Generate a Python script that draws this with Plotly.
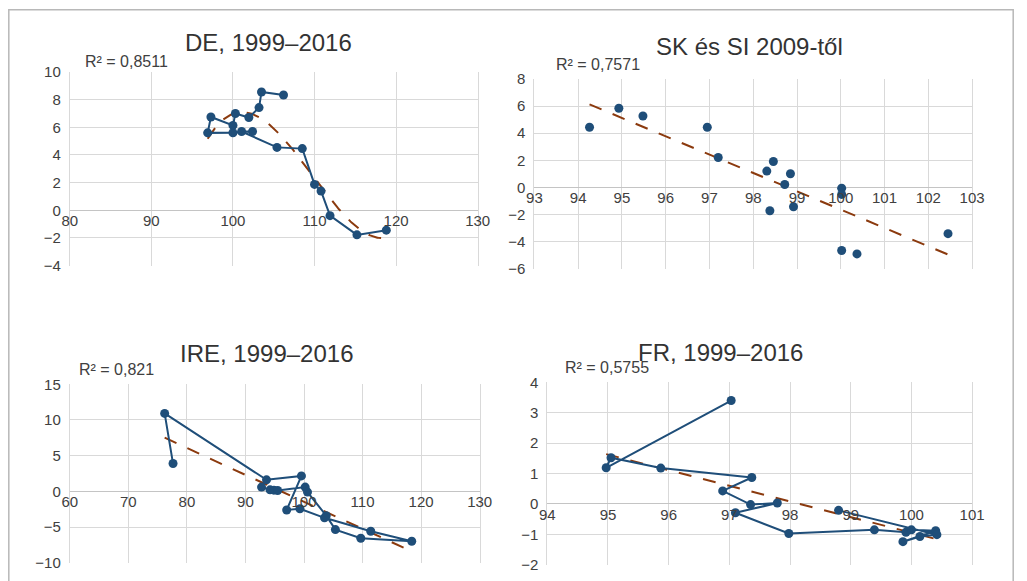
import numpy as np
import plotly.graph_objects as go

# ---------------- data ----------------
de_x = [118.8, 115.2, 111.9, 110.8, 110.0, 108.5, 105.4, 101.06, 102.4, 100.0,
        96.9, 97.3, 100.0, 100.3, 101.95, 103.2, 103.5, 106.2]
de_y = [-1.44, -1.78, -0.39, 1.39, 1.87, 4.46, 4.55, 5.7, 5.7, 5.61,
        5.6, 6.75, 6.14, 7.0, 6.71, 7.43, 8.56, 8.34]

sk_x = [94.26, 94.93, 95.48, 96.95, 97.20, 98.31, 98.46, 98.38, 98.72, 98.85,
        98.92, 100.02, 100.02, 100.02, 100.37, 102.45]
sk_y = [4.44, 5.84, 5.27, 4.44, 2.20, 1.20, 1.91, -1.73, 0.21, 1.0,
        -1.43, -0.06, -0.52, -4.67, -4.92, -3.42]

ire_x = [92.75, 94.2, 94.86, 95.5, 100.2, 100.6, 103.8, 105.36, 109.7, 118.4,
         111.4, 103.5, 99.3, 97.04, 99.56, 93.6, 76.2, 77.63]
ire_y = [0.6, 0.22, 0.17, 0.13, 0.6, -0.1, -3.4, -5.35, -6.56, -6.98,
         -5.58, -3.7, -2.43, -2.6, 2.17, 1.62, 10.92, 3.9]

fr_x = [97.03, 94.97, 95.05, 95.87, 97.37, 96.89, 97.35, 97.79, 97.1, 97.98,
        99.39, 99.91, 100.0, 100.4, 99.86, 100.14, 100.42, 98.80]
fr_y = [3.40, 1.19, 1.52, 1.18, 0.87, 0.43, -0.02, 0.03, -0.29, -0.97,
        -0.85, -0.93, -0.85, -0.88, -1.24, -1.07, -1.01, -0.21]

titles = ["DE, 1999–2016", "SK és SI 2009-től", "IRE, 1999–2016", "FR, 1999–2016"]
r2_labels = ["R² = 0,8511", "R² = 0,7571", "R² = 0,821", "R² = 0,5755"]

# ---------------- styling ----------------
W, H = 1027, 581
# the photographed page includes the default 8px body margin and is scaled
# back to 1027x581; positions below are given in photographed pixels
PM = 8
SX = W / (W + 2 * PM)
SY = H / (H + 2 * PM)

BLUE = "#1F4E79"
TREND = "#8B3A0E"
GRID = "#d9d9d9"
TXT = "#404040"
FONT = "Liberation Sans, Arial, sans-serif"

def fx(p):
    return (p / SX - PM) / W

def fy(p):
    return 1 - (p / SY - PM) / H

panels = [
    dict(x=de_x, y=de_y, mode="lines+markers", deg=3, xr=[80, 130], dx=10, yr=[-4, 10], dy=2,
         box=(70, 71, 480, 265), tpos=(270, 41), rpos=(83, 60)),
    dict(x=sk_x, y=sk_y, mode="markers", deg=1, xr=[93, 103], dx=1, yr=[-6, 8], dy=2,
         box=(537, 78, 977, 268), tpos=(753, 45), rpos=(557, 63)),
    dict(x=ire_x, y=ire_y, mode="lines+markers", deg=1, xr=[60, 130], dx=10, yr=[-10, 15], dy=5,
         box=(70, 384, 482, 563), tpos=(268, 353), rpos=(77, 369)),
    dict(x=fr_x, y=fr_y, mode="lines+markers", deg=1, xr=[94, 101], dx=1, yr=[-2, 4], dy=1,
         box=(550, 382, 977, 565), tpos=(724, 352), rpos=(566, 367)),
]

fig = go.Figure()
layout = dict(
    width=W, height=H,
    margin=dict(l=0, r=0, t=0, b=0),
    paper_bgcolor="white", plot_bgcolor="white",
    showlegend=False,
    font=dict(family=FONT, size=15, color=TXT),
    annotations=[], shapes=[],
)

for i, p in enumerate(panels, start=1):
    xa = "x" if i == 1 else f"x{i}"
    ya = "y" if i == 1 else f"y{i}"
    l, t, r, b = p["box"]
    xdom = [fx(l), fx(r)]
    ydom = [fy(b), fy(t)]
    y0, y1 = p["yr"]
    pos = ydom[0] + (0 - y0) / (y1 - y0) * (ydom[1] - ydom[0])

    # trendline computed from the data (least squares)
    xs = np.array(p["x"]); ys = np.array(p["y"])
    coef = np.polyfit(xs, ys, p["deg"])
    tx = np.linspace(xs.min(), xs.max(), 200)
    ty = np.polyval(coef, tx)
    fig.add_trace(go.Scatter(x=tx, y=ty, mode="lines", xaxis=xa, yaxis=ya,
                             line=dict(color=TREND, width=2, dash="13px,12px"),
                             hoverinfo="skip"))
    fig.add_trace(go.Scatter(x=p["x"], y=p["y"], mode=p["mode"], xaxis=xa, yaxis=ya,
                             line=dict(color=BLUE, width=2),
                             marker=dict(color=BLUE, size=9)))

    xkey = "xaxis" if i == 1 else f"xaxis{i}"
    ykey = "yaxis" if i == 1 else f"yaxis{i}"
    layout[xkey] = dict(domain=xdom, range=p["xr"], dtick=p["dx"], tick0=p["xr"][0],
                        anchor="free", position=pos, showgrid=True, gridcolor=GRID,
                        gridwidth=1, zeroline=False, showline=False, ticks="",
                        tickfont=dict(size=15, color=TXT), fixedrange=True)
    layout[ykey] = dict(domain=ydom, range=p["yr"], dtick=p["dy"], tick0=p["yr"][0],
                        anchor=xa, showgrid=True, gridcolor=GRID, gridwidth=1,
                        zeroline=True, zerolinecolor="#c4c4c4", zerolinewidth=1,
                        showline=True, linecolor=GRID, linewidth=1, mirror=True,
                        ticks="", ticklabelstandoff=5,
                        tickfont=dict(size=15, color=TXT), fixedrange=True)

    layout["annotations"].append(dict(
        text=titles[i - 1], x=fx(p["tpos"][0]), y=fy(p["tpos"][1]), xref="paper", yref="paper",
        xanchor="center", yanchor="middle", showarrow=False,
        font=dict(size=24, color="#333333", family=FONT)))
    layout["annotations"].append(dict(
        text=r2_labels[i - 1], x=fx(p["rpos"][0]), y=fy(p["rpos"][1]), xref="paper", yref="paper",
        xanchor="left", yanchor="middle", showarrow=False,
        font=dict(size=16, color=TXT, family=FONT)))

# outer frame
layout["shapes"].append(dict(type="rect", xref="paper", yref="paper",
                             x0=0.0008, x1=0.9992, y0=-0.05, y1=0.9988,
                             line=dict(color="#b8b8b8", width=1.5), fillcolor="rgba(0,0,0,0)",
                             layer="below"))

fig.update_layout(**layout)
fig.write_html("out.html")
